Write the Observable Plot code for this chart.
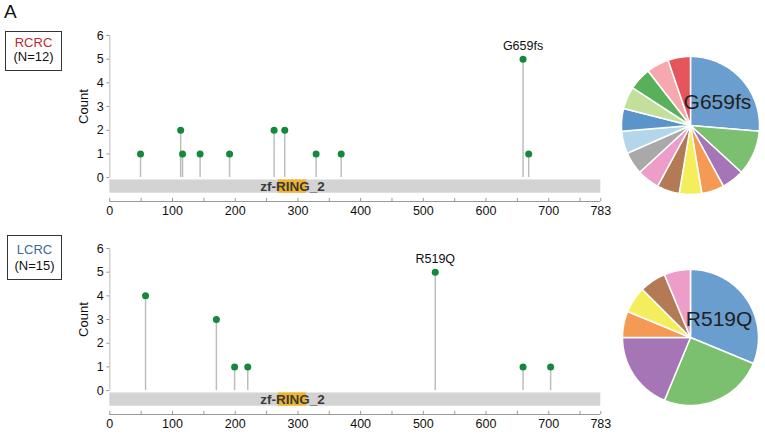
<!DOCTYPE html>
<html><head><meta charset="utf-8">
<script src="https://cdn.jsdelivr.net/npm/d3@7"></script>
<script src="https://cdn.jsdelivr.net/npm/@observablehq/plot@0.6"></script>
<style>
body{margin:0;background:#fff;font-family:"Liberation Sans",Arial,sans-serif;}
#root{position:relative;width:765px;height:435px;overflow:hidden;background:#fff;}
.box{position:absolute;border:1px solid #333;text-align:center;font-size:13px;color:#111;box-sizing:border-box;}
</style></head><body><div id="root"></div>
<script>
// ---- data ----
const proteinLength = 783;
const domainName = "zf-RING_2";
const domainStart = 269, domainEnd = 314;
const xTickValues = [0, 100, 200, 300, 400, 500, 600, 700, 783];
const xMinorTicks = [50, 150, 250, 350, 450, 550, 650, 750];
const yTickValues = [0, 1, 2, 3, 4, 5, 6];

const rcrcName = "RCRC", rcrcN = "(N=12)";
const rcrcPositions = [49, 113, 116, 144, 191, 262, 279, 329, 369, 659, 668];
const rcrcCounts    = [1, 2, 1, 1, 1, 2, 2, 1, 1, 5, 1];
const rcrcHotspot = "G659fs", rcrcHotspotPos = 659, rcrcHotspotCount = 5;
const rcrcPieCounts = [5, 2, 1, 1, 1, 1, 1, 1, 1, 1, 1, 1, 1, 1];

const lcrcName = "LCRC", lcrcN = "(N=15)";
const lcrcPositions = [57, 170, 199, 220, 519, 659, 703];
const lcrcCounts    = [4, 3, 1, 1, 5, 1, 1];
const lcrcHotspot = "R519Q", lcrcHotspotPos = 519, lcrcHotspotCount = 5;
const lcrcPieCounts = [5, 4, 3, 1, 1, 1, 1];

const piePalette = ["#6a9ece", "#7ac06e", "#a675b6", "#f59a55", "#f4ee5d", "#b37a55", "#ec9ec9",
                    "#a9a9a9", "#b3d6ea", "#5a94cb", "#c2e09c", "#58b05a", "#f5a9ae", "#e4565c"];

const FONT = '"Liberation Sans", Arial, sans-serif';
const root = document.getElementById("root");

function place(el, left, top) {
  el.style.position = "absolute"; el.style.left = left + "px"; el.style.top = top + "px";
  root.appendChild(el);
}

function lollipop(positions, counts, hotLabel, hotPos, hotCount) {
  const data = positions.map((p, i) => ({pos: p, count: counts[i]}));
  return Plot.plot({
    width: 620, height: 221,
    marginLeft: 109.3, marginRight: 19.7, marginTop: 35, marginBottom: 20,
    style: {fontFamily: FONT, fontSize: "12px", color: "#111", background: "transparent", overflow: "visible"},
    x: {domain: [0, proteinLength]},
    y: {domain: [-1.01, 6]},
    marks: [
      Plot.ruleX([0], {y1: 0, y2: 6, stroke: "#bbb"}),
      Plot.axisY({ticks: yTickValues, tickSize: 3, tickPadding: 3, label: null, stroke: "#999", tickFormat: d => String(d), fontSize: 12.5}),
      Plot.text(["Count"], {frameAnchor: "left", y: [3], text: d => d, rotate: -90, dx: -26, textAnchor: "middle", fontSize: 13}),
      Plot.ruleY([-1.01], {x1: 0, x2: proteinLength, stroke: "#999"}),
      Plot.ruleX([...xTickValues, ...xMinorTicks], {x: d => d, y1: -1.01, y2: -0.88, stroke: "#999"}),
      Plot.axisX({ticks: xTickValues, tickSize: 0, tickPadding: 5, label: null, tickFormat: d => String(d), fontSize: 12.5}),
      Plot.rect([0], {x1: 0, x2: proteinLength, y1: -0.1, y2: -0.66, fill: "#d3d3d3"}),
      Plot.rect([0], {x1: domainStart, x2: domainEnd, y1: -0.1, y2: -0.66, fill: "#f0b32c"}),
      Plot.text([domainName], {x: (domainStart + domainEnd) / 2, y: -0.38, text: d => d, fontSize: 13.5, fontWeight: "bold", fill: "#3a3a3a"}),
      Plot.ruleX(data, {x: "pos", y1: 0, y2: "count", stroke: "#bdbdbd", strokeWidth: 1.5}),
      Plot.dot(data, {x: "pos", y: "count", r: 3.5, fill: "#14893c"}),
      Plot.text([hotLabel], {x: [hotPos], y: [hotCount], text: d => d, dy: -13, fontSize: 12.5, fill: "#111"})
    ]
  });
}

function pie(values, label, lx, ly, inset) {
  const arcs = d3.pie().sort(null).value(d => d)(values);
  const feats = arcs.map((a, i) => {
    const ring = [[0, 0]];
    const n = Math.max(2, Math.ceil((a.endAngle - a.startAngle) / 0.02));
    for (let k = 0; k <= n; k++) {
      const t = a.startAngle + (a.endAngle - a.startAngle) * k / n;
      ring.push([Math.sin(t), -Math.cos(t)]);
    }
    ring.push([0, 0]);
    return {type: "Feature", properties: {i}, geometry: {type: "Polygon", coordinates: [ring]}};
  });
  return Plot.plot({
    width: 150, height: 150, margin: 0,
    style: {background: "transparent", overflow: "visible", fontFamily: FONT},
    projection: {type: "identity", inset, domain: {type: "MultiPoint", coordinates: [[-1, -1], [1, 1]]}},
    color: {type: "ordinal", domain: d3.range(piePalette.length), range: piePalette},
    marks: [
      Plot.geo(feats, {fill: d => d.properties.i, stroke: "white", strokeWidth: 1.5}),
      Plot.text([label], {x: [lx], y: [ly], text: d => d, fontSize: 21, fill: "#222"})
    ]
  });
}

function box(name, n, color, w, h, pad, lh) {
  const b = document.createElement("div");
  b.className = "box";
  b.style.width = w + "px"; b.style.height = h + "px";
  b.style.paddingTop = pad + "px"; b.style.lineHeight = lh + "px";
  b.innerHTML = `<div style="color:${color}">${name}</div><div>${n}</div>`;
  return b;
}

const A = document.createElement("div");
A.textContent = "A"; A.style.fontSize = "19px"; A.style.color = "#111";
place(A, 4, 1);

place(lollipop(rcrcPositions, rcrcCounts, rcrcHotspot, rcrcHotspotPos, rcrcHotspotCount), 0, 0);
place(box(rcrcName, rcrcN, "#c0282e", 57, 40, 4, 14), 5, 31);
place(pie(rcrcPieCounts, rcrcHotspot, 0.39, -0.34, 6), 615, 50);

place(lollipop(lcrcPositions, lcrcCounts, lcrcHotspot, lcrcHotspotPos, lcrcHotspotCount), 0, 213);
place(box(lcrcName, lcrcN, "#3a6a9b", 55, 45, 6, 16), 7, 235);
place(pie(lcrcPieCounts, lcrcHotspot, 0.42, -0.275, 7), 615, 262);
</script></body></html>
